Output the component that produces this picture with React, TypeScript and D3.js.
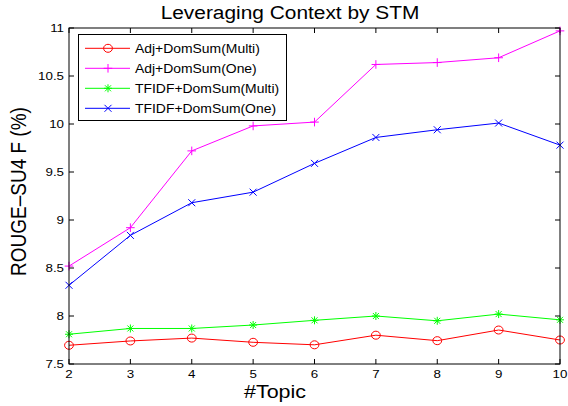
import React from "react";
import * as d3 from "d3";

const topics = [2, 3, 4, 5, 6, 7, 8, 9, 10];
const adjMulti = [7.695, 7.74, 7.77, 7.726, 7.70, 7.80, 7.743, 7.854, 7.75];
const adjOne = [8.52, 8.92, 9.72, 9.98, 10.02, 10.62, 10.64, 10.69, 10.97];
const tfidfMulti = [7.81, 7.87, 7.87, 7.906, 7.955, 8.0, 7.95, 8.02, 7.96];
const tfidfOne = [8.32, 8.84, 9.18, 9.29, 9.59, 9.86, 9.94, 10.01, 9.78];
const seriesNames = ["Adj+DomSum(Multi)", "Adj+DomSum(One)", "TFIDF+DomSum(Multi)", "TFIDF+DomSum(One)"];
const seriesColors = ["#ff0000", "#ff00ff", "#00ff00", "#0000ff"];
const seriesMarkers = ["circle", "plus", "star", "x"];
const yTicks = [7.5, 8, 8.5, 9, 9.5, 10, 10.5, 11];
const yTickLabels = ["7.5", "8", "8.5", "9", "9.5", "10", "10.5", "11"];

const W = 568, H = 406;
const L = 69, R = 560, T = 28, B = 364;
const SX = 1.16;
const FONT = "'Liberation Sans', Arial, Helvetica, sans-serif";

function Marker({ type, x, y, color }: { type: string; x: number; y: number; color: string }) {
  const s = 3.5;
  if (type === "circle") return <ellipse cx={x} cy={y} rx={4.4} ry={4} fill="none" stroke={color} strokeWidth={1} />;
  if (type === "plus")
    return (
      <path d={`M${x - s - 0.8},${y}H${x + s + 0.8}M${x},${y - s - 0.8}V${y + s + 0.8}`} stroke={color} strokeWidth={1} />
    );
  if (type === "x")
    return <path d={`M${x - s},${y - s}L${x + s},${y + s}M${x - s},${y + s}L${x + s},${y - s}`} stroke={color} strokeWidth={1} />;
  return (
    <path
      d={`M${x - s - 0.5},${y}H${x + s + 0.5}M${x},${y - s - 0.5}V${y + s + 0.5}M${x - s + 0.5},${y - s + 0.5}L${x + s - 0.5},${y + s - 0.5}M${x - s + 0.5},${y + s - 0.5}L${x + s - 0.5},${y - s + 0.5}`}
      stroke={color}
      strokeWidth={1}
    />
  );
}

function Txt({ x, y, size, anchor = "start", rotate = 0, children }: any) {
  return (
    <g transform={`translate(${x},${y}) rotate(${rotate}) scale(${rotate ? 1 : SX},${rotate ? SX : 1})`}>
      <text x={0} y={0} fontSize={size} fontFamily={FONT} textAnchor={anchor} fill="#000">
        {children}
      </text>
    </g>
  );
}

export default function App() {
  const x = d3.scaleLinear().domain([2, 10]).range([L, R]);
  const y = d3.scaleLinear().domain([7.5, 11]).range([B, T]);
  const data = [adjMulti, adjOne, tfidfMulti, tfidfOne];
  const line = d3
    .line<number>()
    .x((_, i) => x(topics[i]))
    .y((d) => y(d));
  const tl = 5;
  return (
    <svg width={W} height={H} style={{ position: "absolute", left: 0, top: 0, background: "#fff" }}>
      <rect x={0} y={0} width={W} height={H} fill="#fff" />
      {topics.map((t) => (
        <g key={"xt" + t}>
          <line x1={x(t)} x2={x(t)} y1={B} y2={B - tl} stroke="#000" />
          <line x1={x(t)} x2={x(t)} y1={T} y2={T + tl} stroke="#000" />
          <Txt x={x(t)} y={378} size={11.5} anchor="middle">
            {t}
          </Txt>
        </g>
      ))}
      {yTicks.map((v, i) => (
        <g key={"yt" + v}>
          <line x1={L} x2={L + tl} y1={y(v)} y2={y(v)} stroke="#000" />
          <line x1={R} x2={R - tl} y1={y(v)} y2={y(v)} stroke="#000" />
          <Txt x={64} y={y(v) + 4} size={11.5} anchor="end">
            {yTickLabels[i]}
          </Txt>
        </g>
      ))}
      {data.map((d, si) => (
        <g key={"s" + si}>
          <path d={line(d) || ""} fill="none" stroke={seriesColors[si]} strokeWidth={1} />
          {d.map((v, i) => (
            <Marker key={i} type={seriesMarkers[si]} x={x(topics[i])} y={y(v)} color={seriesColors[si]} />
          ))}
        </g>
      ))}
      <rect x={L} y={T} width={R - L} height={B - T} fill="none" stroke="#000" strokeWidth={1} />
      <rect x={78.5} y={34.5} width={208} height={86} fill="#fff" stroke="#000" strokeWidth={1} />
      {seriesNames.map((n, i) => {
        const ly = 48.3 + i * 20;
        return (
          <g key={"lg" + i}>
            <line x1={85} x2={130} y1={ly} y2={ly} stroke={seriesColors[i]} strokeWidth={1} />
            <Marker type={seriesMarkers[i]} x={108} y={ly} color={seriesColors[i]} />
            <Txt x={135} y={ly + 4.3} size={12}>
              {n}
            </Txt>
          </g>
        );
      })}
      <Txt x={290} y={18.5} size={18} anchor="middle">
        Leveraging Context by STM
      </Txt>
      <Txt x={275} y={398} size={18.5} anchor="middle">
        #Topic
      </Txt>
      <Txt x={26} y={191.5} size={19} anchor="middle" rotate={-90}>
        ROUGE–SU4 F (%)
      </Txt>
    </svg>
  );
}
